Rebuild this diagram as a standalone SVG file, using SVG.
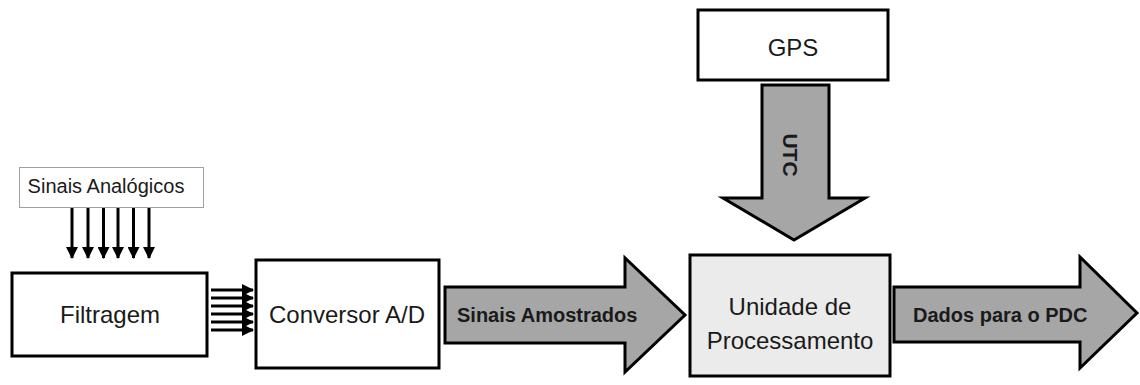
<svg xmlns="http://www.w3.org/2000/svg" width="1140" height="385" viewBox="0 0 1140 385">
<defs>
<style>
.box{fill:#fff;stroke:#000;stroke-width:3}
.thin{fill:#fff;stroke:#a0a0a0;stroke-width:1}
.proc{fill:#ebebeb;stroke:#000;stroke-width:3}
.fat{fill:#a6a6a6;stroke:#000;stroke-width:3;stroke-linejoin:miter}
.t{font-family:"Liberation Sans",Arial,sans-serif;font-size:24px;fill:#1a1a1a;text-anchor:middle}
.b{font-family:"Liberation Sans",Arial,sans-serif;font-size:20px;font-weight:bold;fill:#1a1a1a}
.ln{stroke:#000;stroke-width:3;fill:none}
</style>
<marker id="ah" markerUnits="userSpaceOnUse" markerWidth="12" markerHeight="12" viewBox="0 0 12 12" refX="11" refY="6" orient="auto">
<path d="M0,0 L12,6 L0,12 Z" fill="#000"/>
</marker>
</defs>

<g id="sinais-analogicos">
<rect class="thin" x="19.5" y="167.5" width="184" height="40"/>
<text x="106" y="193" class="t" style="font-size:20px">Sinais Analógicos</text>
</g>

<g id="filtragem">
<rect class="box" x="12" y="273" width="195" height="83"/>
<text x="110" y="323" class="t">Filtragem</text>
</g>

<g id="conversor">
<rect class="box" x="256" y="260" width="183" height="108"/>
<text x="347" y="323" class="t">Conversor A/D</text>
</g>

<g id="gps">
<rect class="box" x="698" y="10" width="190" height="70"/>
<text x="793" y="56" class="t">GPS</text>
</g>

<g id="unidade">
<rect class="proc" x="690" y="255" width="200" height="121"/>
<text x="790" y="315" class="t">Unidade de</text>
<text x="790" y="349" class="t">Processamento</text>
</g>

<g id="connectors">
<g class="ln" marker-end="url(#ah)">
<line x1="72" y1="208" x2="72" y2="258"/>
<line x1="88" y1="208" x2="88" y2="258"/>
<line x1="103.5" y1="208" x2="103.5" y2="258"/>
<line x1="118" y1="208" x2="118" y2="258"/>
<line x1="133.5" y1="208" x2="133.5" y2="258"/>
<line x1="149" y1="208" x2="149" y2="258"/>
</g>
<g class="ln" marker-end="url(#ah)">
<line x1="211" y1="290" x2="253" y2="290"/>
<line x1="211" y1="298" x2="253" y2="298"/>
<line x1="211" y1="306" x2="253" y2="306"/>
<line x1="211" y1="314" x2="253" y2="314"/>
<line x1="211" y1="322" x2="253" y2="322"/>
<line x1="211" y1="330" x2="253" y2="330"/>
</g>
<g id="seta-amostrados">
<path class="fat" d="M445,287 L625,287 L625,258 L685,315 L625,372 L625,343 L445,343 Z"/>
<text x="457" y="322" class="b">Sinais Amostrados</text>
</g>
<g id="seta-utc">
<path class="fat" d="M762,85 L829,85 L829,198 L865,198 L794,240 L723,198 L762,198 Z"/>
<text class="b" text-anchor="middle" transform="translate(783,155) rotate(90)" style="font-size:21px">UTC</text>
</g>
<g id="seta-dados">
<path class="fat" d="M894,287 L1080,287 L1080,257 L1137,313 L1080,368 L1080,342 L894,342 Z"/>
<text x="913" y="322" class="b">Dados para o PDC</text>
</g>
</g>
</svg>
